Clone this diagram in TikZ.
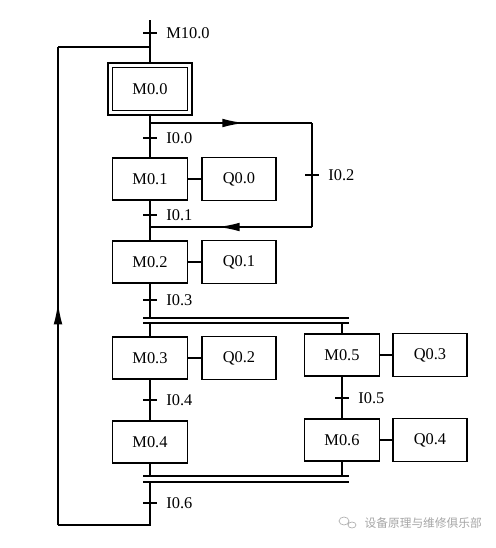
\documentclass[tikz,border=0pt]{standalone}
\usepackage{fontspec}
\setmainfont{Liberation Serif}
\newfontfamily\cjkfont{Noto Sans CJK SC}
\usetikzlibrary{arrows.meta,decorations.markings}

\tikzset{
  stepbox/.style={draw, minimum width=2.25cm, minimum height=1.27cm, inner sep=0pt},
  actbox/.style={draw, minimum width=2.22cm, minimum height=1.29cm, inner sep=0pt},
  lbl/.style={right, xshift=4pt},
  midtip/.style={postaction={decorate}, decoration={markings,
      mark=at position #1 with {\arrow{Latex[length=6.5mm,width=2.6mm]}}}}
}

\begin{document}
\begin{tikzpicture}[x=0.03cm, y=-0.03cm, line width=1.3pt, font=\fontsize{14}{16}\selectfont]
    \useasboundingbox (0,0) rectangle (496,548);
    \node[draw, double, double distance=2.4pt, minimum width=2.39cm, minimum height=1.43cm] (m00) at (150,89) {M0.0};
    \node[stepbox] (m01) at (150,179) {M0.1};
    \node[actbox] (q00) at (239,179) {Q0.0};
    \node[stepbox] (m02) at (150,262) {M0.2};
    \node[actbox] (q01) at (239,262) {Q0.1};
    \node[stepbox] (m03) at (150,358) {M0.3};
    \node[actbox] (q02) at (239,358) {Q0.2};
    \node[stepbox] (m04) at (150,442) {M0.4};
    \node[stepbox] (m05) at (342,355) {M0.5};
    \node[actbox] (q03) at (430,355) {Q0.3};
    \node[stepbox] (m06) at (342,440) {M0.6};
    \node[actbox] (q04) at (430,440) {Q0.4};

    \coordinate (top) at (150,20);
    \coordinate (j0) at (150,47);
    \coordinate (j1) at (150,123);
    \coordinate (r1) at (312,123);
    \coordinate (r2) at (312,227);
    \coordinate (j2) at (150,227);
    \coordinate (sp1) at (143,318);
    \coordinate (sp2) at (349,318);
    \coordinate (sp3) at (143,323);
    \coordinate (sp4) at (349,323);
    \coordinate (jn1) at (143,476);
    \coordinate (jn2) at (349,476);
    \coordinate (jn3) at (143,482);
    \coordinate (jn4) at (349,482);
    \coordinate (bot) at (150,525);
    \coordinate (lb) at (58,525);
    \coordinate (lt) at (58,47);

    \draw (top) -- (m00);
    \draw (m00) -- (m01);
    \draw (m01) -- (m02);
    \draw (m01) -- (q00);
    \draw (m02) -- (q01);
    \draw (m03) -- (q02);
    \draw (m05) -- (q03);
    \draw (m06) -- (q04);
    \draw[midtip=0.58] (j1) -- (r1);
    \draw (r1) -- (r2);
    \draw[midtip=0.58] (r2) -- (j2);
    \draw (m02) -- (m02 |- sp1);
    \draw (sp1) -- (sp2);
    \draw (sp3) -- (sp4);
    \draw (m03 |- sp3) -- (m03);
    \draw (m05 |- sp3) -- (m05);
    \draw (m03) -- (m04);
    \draw (m05) -- (m06);
    \draw (m04) -- (m04 |- jn1);
    \draw (m06) -- (m06 |- jn1);
    \draw (jn1) -- (jn2);
    \draw (jn3) -- (jn4);
    \draw (m04 |- jn3) -- (bot) -- (lb);
    \draw[midtip=0.465] (lb) -- (lt);
    \draw (lt) -- (j0);

    \draw (150,33) +(-7,0) -- +(7,0) node[lbl] {M10.0};
    \draw (150,138) +(-7,0) -- +(7,0) node[lbl] {I0.0};
    \draw (312,175) +(-7,0) -- +(7,0) node[lbl] {I0.2};
    \draw (150,215) +(-7,0) -- +(7,0) node[lbl] {I0.1};
    \draw (150,300) +(-7,0) -- +(7,0) node[lbl] {I0.3};
    \draw (150,400) +(-7,0) -- +(7,0) node[lbl] {I0.4};
    \draw (342,398) +(-7,0) -- +(7,0) node[lbl] {I0.5};
    \draw (150,503) +(-7,0) -- +(7,0) node[lbl] {I0.6};

    \draw[gray!60, line width=0.6pt] (344,521) ellipse (5 and 4) (352,525) ellipse (4 and 3);
    \node[anchor=west, text=gray!70, font=\cjkfont\fontsize{10}{12}\selectfont] (wm) at (360,523) {设备原理与维修俱乐部};
\end{tikzpicture}
\end{document}
